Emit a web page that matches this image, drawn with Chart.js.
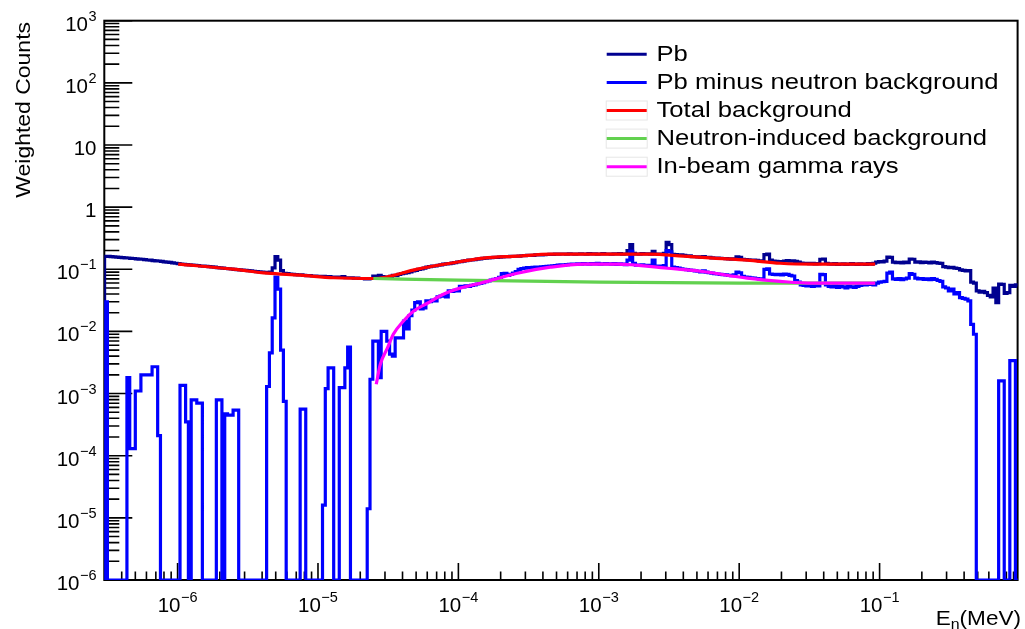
<!DOCTYPE html>
<html><head><meta charset="utf-8">
<script src="https://cdn.jsdelivr.net/npm/chart.js@4.4.1/dist/chart.umd.min.js"></script>
<style>html,body{margin:0;padding:0;background:#fff;overflow:hidden}canvas{display:block}</style>
</head><body>
<canvas id="c" width="1025" height="629"></canvas>
<script>
// ---- histogram binning: log10(E/MeV) of the first bin edge and bin width ----
const binStartLog10 = -6.52;
const binWidthLog10 = 0.0199;

// ---- Pb (weighted counts per bin) ----
const pbCounts = [
.162,.161,.160,.158,.157,.156,.154,.153,.152,.150,
.149,.147,.146,.145,.143,.141,.140,.138,.137,.136,
.134,.132,.130,.129,.127,.125,.123,.121,.120,.119,
.118,.117,.116,.115,.113,.112,.111,.110,.109,.108,
.106,.105,.104,.103,.102,.101,.100,.099,.098,.097,
.096,.095,.094,.093,.092,.091,.090,.089,.088,.090,
.105,.160,.140,.095,.086,.085,.084,.083,.082,.081,
.081,.080,.079,.079,.078,.078,.077,.077,.077,.076,
.076,.075,.075,.075,.074,.076,.073,.073,.073,.072,
.072,.071,.071,.070,.070,.071,.078,.074,.080,.076,
.072,.075,.077,.080,.079,.083,.085,.087,.088,.091,
.094,.096,.100,.101,.104,.108,.110,.112,.113,.116,
.118,.121,.122,.123,.126,.128,.131,.133,.135,.138,
.140,.141,.143,.146,.147,.150,.151,.152,.154,.155,
.156,.157,.158,.159,.160,.161,.162,.162,.163,.165,
.166,.167,.168,.168,.170,.171,.171,.172,.173,.174,
.174,.175,.175,.176,.176,.175,.177,.176,.175,.176,
.177,.176,.175,.178,.176,.177,.175,.176,.178,.176,
.176,.175,.177,.176,.178,.175,.176,.200,.250,.180,
.176,.175,.178,.176,.177,.175,.195,.176,.174,.175,
.180,.270,.250,.174,.172,.171,.170,.167,.165,.164,
.160,.159,.158,.157,.160,.156,.155,.153,.152,.151,
.150,.149,.148,.147,.146,.147,.158,.156,.145,.143,
.142,.141,.140,.139,.137,.136,.172,.175,.140,.135,
.134,.133,.132,.136,.138,.135,.137,.134,.130,.126,
.125,.124,.123,.124,.122,.123,.145,.146,.124,.122,
.121,.123,.120,.121,.122,.120,.121,.123,.121,.120,
.122,.121,.120,.123,.121,.125,.130,.133,.132,.135,
.157,.155,.130,.128,.129,.127,.130,.128,.146,.145,
.130,.132,.128,.131,.129,.127,.130,.128,.126,.124,
.110,.108,.106,.107,.104,.103,.098,.096,.094,.095,
.062,.060,.045,.043,.044,.042,.038,.036,.050,.029,
.058,.057,.041,.042,.055,.053,.056
];

// ---- Pb minus neutron background (empty bins sit at the axis minimum) ----
const pbMinusNeutron = [
.03,1e-6,1e-6,1e-6,1e-6,1e-6,1e-6,1e-6,1.8e-3,1.3e-4,
1.3e-4,1.1e-3,1.1e-3,2e-3,2e-3,2e-3,2e-3,2.7e-3,2.7e-3,2.1e-4,
1e-6,1e-6,1e-6,1e-6,1e-6,1e-6,1e-6,1.35e-3,1.35e-3,3.5e-4,
1e-6,7.9e-4,7.9e-4,7e-4,7e-4,1e-6,1e-6,1e-6,1e-6,1e-6,
7.9e-4,7.9e-4,1e-6,4.7e-4,4.5e-4,4.5e-4,5.4e-4,5.4e-4,1e-6,1e-6,
1e-6,1e-6,1e-6,1e-6,1e-6,1e-6,1e-6,1e-6,1.3e-3,4.5e-3,
.0165,.075,.048,5e-3,7.5e-4,1e-6,1e-6,1e-6,1e-6,1e-6,
5.6e-4,5.6e-4,1e-6,1e-6,1e-6,1e-6,1e-6,1e-6,1.6e-5,1.2e-3,
2.6e-3,2.6e-3,1e-6,1e-6,1.25e-3,1.25e-3,2.6e-3,5.6e-3,1e-6,1e-6,
1e-6,1e-6,1e-6,1e-6,1.4e-5,1.7e-3,7e-3,7e-3,1.8e-3,.01,
.01,.007,.0043,.004,.0079,.0079,.0079,.0146,.011,.018,
.022,.029,.030,.023,.024,.031,.030,.032,.031,.036,
.037,.038,.036,.045,.044,.046,.045,.053,.052,.054,
.053,.055,.056,.058,.059,.061,.063,.065,.067,.069,
.071,.074,.085,.086,.080,.083,.087,.092,.100,.103,
.104,.106,.105,.107,.108,.106,.109,.110,.111,.112,
.114,.115,.117,.118,.116,.119,.120,.121,.120,.122,
.121,.123,.122,.121,.123,.122,.124,.121,.122,.123,
.122,.121,.123,.120,.122,.121,.119,.140,.195,.125,
.117,.116,.118,.115,.116,.114,.140,.113,.112,.113,
.115,.200,.190,.108,.106,.104,.102,.100,.099,.097,
.096,.094,.093,.091,.094,.090,.088,.087,.085,.084,
.083,.082,.081,.080,.079,.081,.090,.088,.077,.075,
.074,.073,.072,.071,.070,.069,.100,.102,.084,.083,
.082,.083,.081,.084,.083,.080,.078,.066,.062,.056,
.055,.054,.056,.053,.055,.054,.083,.082,.056,.053,
.052,.054,.051,.053,.052,.050,.053,.052,.051,.053,
.055,.057,.056,.058,.057,.056,.060,.062,.063,.064,
.087,.090,.070,.069,.071,.068,.070,.072,.085,.083,
.072,.070,.071,.069,.070,.068,.071,.069,.066,.064,
.052,.050,.045,.048,.040,.042,.035,.034,.033,.031,
.013,.009,1e-6,1e-6,1e-6,1e-6,1e-6,1e-6,1e-6,1e-6,
.0016,.0016,1e-6,1e-6,.0034,.0034,1e-6
];

// ---- smooth background components ----
const totalBkgEnergy = [1.01e-6,2.49e-6,4.35e-6,7.48e-6,1.29e-5,2.48e-5,5.10e-5,8.77e-5,1.51e-4,2.63e-4,4.52e-4,7.76e-4,1.36e-3,2.33e-3,4.00e-3,6.55e-3,1.14e-2,1.96e-2,3.37e-2,5.89e-2,9.3e-2];
const totalBkg       = [0.121,0.1005,0.0865,0.0804,0.073,0.071,0.1005,0.125,0.151,0.1626,0.175,0.175,0.175,0.175,0.1626,0.151,0.140,0.125,0.121,0.121,0.121];

const neutronEnergy = [2.48e-5,1.0e-4,1.01e-3,1.02e-2,9.3e-2];
const neutronBkg    = [0.071,0.0667,0.0619,0.0597,0.0597];

const gammaEnergy = [2.60e-5,2.78e-5,3.12e-5,3.44e-5,4.05e-5,4.78e-5,6.01e-5,7.82e-5,1.03e-4,1.43e-4,2.63e-4,4.52e-4,7.76e-4,1.36e-3,3.08e-3,5.28e-3,1.14e-2,1.96e-2,3.37e-2,5.89e-2,9.3e-2];
const gammaBkg    = [1.41e-3,2.96e-3,5.37e-3,9.0e-3,0.0146,0.0211,0.0284,0.0397,0.0497,0.0597,0.0865,0.108,0.121,0.121,0.104,0.093,0.072,0.064,0.0597,0.0597,0.0597];

// ---- labels ----
const seriesLabels = ['Pb','Pb minus neutron background','Total background','Neutron-induced background','In-beam gamma rays'];
const xTickValues = [1e-6,1e-5,1e-4,1e-3,1e-2,1e-1];
const xTickLabels = ['10^\u22126','10^\u22125','10^\u22124','10^\u22123','10^\u22122','10^\u22121'];
const yTickValues = [1e3,1e2,1e1,1,1e-1,1e-2,1e-3,1e-4,1e-5,1e-6];
const yTickLabels = ['10^3','10^2','10','1','10^\u22121','10^\u22122','10^\u22123','10^\u22124','10^\u22125','10^\u22126'];
const xTitleParts = ['E','n','(MeV)'];
const yTitle = 'Weighted Counts';

// ---- axis ranges ----
const X_MIN = Math.pow(10,-6.522), X_MAX = Math.pow(10,-0.017);
const Y_MIN = 1e-6, Y_MAX = 1e3;

const FONT = "'Liberation Sans', Arial, Helvetica, sans-serif";
const colors = {pb:'#000090', sub:'#0000ff', tot:'#ff0000', neu:'#62d14f', gam:'#ff00ff'};

function histPoints(vals){
  const edge = k => Math.pow(10, binStartLog10 + k*binWidthLog10);
  const pts = [{x: edge(0), y: Y_MIN}];
  vals.forEach((v,k) => pts.push({x: edge(k), y: v}));
  pts.push({x: edge(vals.length), y: vals[vals.length-1]});
  return pts;
}
function curvePoints(xs, ys){ return xs.map((x,i)=>({x, y: ys[i]})); }

function logTicks(min, max){
  const out = [];
  for (let e = Math.floor(Math.log10(min)); e <= Math.ceil(Math.log10(max)); e++){
    for (let m = 1; m <= 9; m++){
      const v = m*Math.pow(10,e);
      if (v >= min*0.999999 && v <= max*1.000001) out.push({v, major: m===1});
    }
  }
  return out;
}

function drawPowLabel(ctx, label, x, baseY, align){
  const parts = label.split('^');
  ctx.font = '20.5px ' + FONT;
  const wb = ctx.measureText(parts[0]).width;
  let we = 0;
  if (parts[1]){ ctx.font = '14.5px ' + FONT; we = ctx.measureText(parts[1]).width + 0.5; }
  let x0 = align === 'center' ? x - (wb+we)/2 : x - (wb+we);
  ctx.textAlign = 'left'; ctx.textBaseline = 'alphabetic';
  ctx.font = '20.5px ' + FONT;
  ctx.fillText(parts[0], x0, baseY);
  if (parts[1]){ ctx.font = '14.5px ' + FONT; ctx.fillText(parts[1], x0 + wb + 0.5, baseY - 10); }
}

// text drawn with a horizontal stretch (the reference font is wide)
function wideText(ctx, txt, x, y, stretch){
  ctx.save();
  ctx.translate(x, y);
  ctx.scale(stretch, 1);
  ctx.fillText(txt, 0, 0);
  ctx.restore();
}

const rootFrame = {
  id: 'rootFrame',
  beforeDatasetsDraw(chart){
    const {ctx, chartArea: a, scales: {x, y}} = chart;
    ctx.save();
    ctx.strokeStyle = '#000'; ctx.lineWidth = 1.6;
    ctx.beginPath();
    logTicks(X_MIN, X_MAX).forEach(t => {
      const px = x.getPixelForValue(t.v);
      ctx.moveTo(px, a.bottom); ctx.lineTo(px, a.bottom - (t.major ? 17 : 8.5));
    });
    logTicks(Y_MIN, Y_MAX).forEach(t => {
      const py = y.getPixelForValue(t.v);
      ctx.moveTo(a.left, py); ctx.lineTo(a.left + (t.major ? 28 : 15), py);
    });
    ctx.stroke();
    ctx.lineWidth = 2;
    ctx.strokeRect(a.left, a.top, a.right - a.left, a.bottom - a.top);
    ctx.restore();
  },
  afterDraw(chart){
    const {ctx, chartArea: a, scales: {x, y}} = chart;
    ctx.save();
    ctx.fillStyle = '#000';
    xTickValues.forEach((v,i) => drawPowLabel(ctx, xTickLabels[i], x.getPixelForValue(v), 612, 'center'));
    yTickValues.forEach((v,i) => drawPowLabel(ctx, yTickLabels[i], 96.5, y.getPixelForValue(v) + 10, 'right'));

    // y title (rotated, stretched along its length)
    ctx.save();
    ctx.font = '20.5px ' + FONT;
    ctx.translate(29.5, 22);
    ctx.rotate(-Math.PI/2);
    ctx.textAlign = 'right'; ctx.textBaseline = 'alphabetic';
    ctx.scale(1.12, 1);
    ctx.fillText(yTitle, 0, 0);
    ctx.restore();

    // x title  E_n(MeV), right aligned
    ctx.save();
    ctx.textAlign = 'left'; ctx.textBaseline = 'alphabetic';
    const st = 1.1;
    ctx.font = '20.5px ' + FONT; const w0 = ctx.measureText(xTitleParts[0]).width * st;
    ctx.font = '14.5px ' + FONT; const w1 = ctx.measureText(xTitleParts[1]).width * st;
    ctx.font = '20.5px ' + FONT; const w2 = ctx.measureText(xTitleParts[2]).width * st;
    let sx = 1021 - (w0 + w1 + w2);
    ctx.font = '20.5px ' + FONT; wideText(ctx, xTitleParts[0], sx, 625, st);
    ctx.font = '14.5px ' + FONT; wideText(ctx, xTitleParts[1], sx + w0, 629, st);
    ctx.font = '20.5px ' + FONT; wideText(ctx, xTitleParts[2], sx + w0 + w1, 625, st);
    ctx.restore();

    // legend
    const ds = chart.data.datasets;
    const rowY0 = 54.3, rowStep = 28.1, lx0 = 606.7, lx1 = 646.7, tx = 656.5;
    ds.forEach((d, i) => {
      const ry = rowY0 + i*rowStep;
      if (i >= 2){
        ctx.strokeStyle = '#e6e6e6'; ctx.lineWidth = 1;
        ctx.strokeRect(lx0 - 0.5, ry - 9.5, lx1 - lx0 + 1, 19);
      }
      ctx.strokeStyle = d.borderColor; ctx.lineWidth = 3;
      ctx.beginPath(); ctx.moveTo(lx0, ry); ctx.lineTo(lx1, ry); ctx.stroke();
      ctx.fillStyle = '#000';
      ctx.font = '22px ' + FONT;
      ctx.textAlign = 'left'; ctx.textBaseline = 'alphabetic';
      wideText(ctx, d.label, tx, ry + 6.5, 1.165);
    });
    ctx.restore();
  }
};

const histCommon = {stepped: 'before', borderWidth: 3.2, pointRadius: 0, fill: false, borderJoinStyle: 'miter', borderCapStyle: 'butt'};
const curveCommon = {cubicInterpolationMode: 'monotone', borderWidth: 3.2, pointRadius: 0, fill: false, borderCapStyle: 'butt'};

new Chart(document.getElementById('c'), {
  type: 'line',
  data: {
    datasets: [
      Object.assign({label: seriesLabels[0], data: histPoints(pbCounts), borderColor: colors.pb, order: 5}, histCommon),
      Object.assign({label: seriesLabels[1], data: histPoints(pbMinusNeutron), borderColor: colors.sub, order: 4}, histCommon),
      Object.assign({label: seriesLabels[2], data: curvePoints(totalBkgEnergy, totalBkg), borderColor: colors.tot, order: 3}, curveCommon),
      Object.assign({label: seriesLabels[3], data: curvePoints(neutronEnergy, neutronBkg), borderColor: colors.neu, order: 2}, curveCommon),
      Object.assign({label: seriesLabels[4], data: curvePoints(gammaEnergy, gammaBkg), borderColor: colors.gam, order: 1}, curveCommon)
    ]
  },
  options: {
    responsive: false,
    animation: false,
    devicePixelRatio: 1,
    layout: {padding: {left: 104.3, right: 7.4, top: 20.7, bottom: 49}},
    plugins: {legend: {display: false}, tooltip: {enabled: false}},
    scales: {
      x: {type: 'logarithmic', min: X_MIN, max: X_MAX, display: false},
      y: {type: 'logarithmic', min: Y_MIN, max: Y_MAX, display: false}
    }
  },
  plugins: [rootFrame]
});
</script>
</body></html>
